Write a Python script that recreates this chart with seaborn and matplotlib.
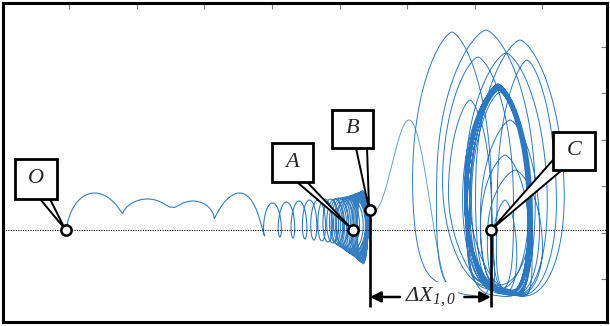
import numpy as np
import seaborn as sns
import matplotlib.pyplot as plt
from matplotlib.patches import Polygon, Rectangle

# values: x in tick spacings, y in tick spacings above the ground line
# bouncing arcs from O, then the small loops that pile up into the cone at A
walk_x = [0.953, 1.796, 2.521, 3.142, 3.896, 4.118, 4.311, 4.488, 4.621, 4.740,
          4.828, 4.902, 4.962, 5.006, 5.065, 5.124, 5.154, 5.183, 5.198, 5.220,
          5.235, 5.250, 5.265, 5.283, 5.294, 5.309, 5.320, 5.331, 5.339, 5.346]
walk_ybot = [0.0, 0.366, 0.496, 0.259, -0.129, -0.151, -0.172, -0.194, -0.216, -0.237,
             -0.259, -0.280, -0.302, -0.345, -0.388, -0.431, -0.474, -0.496, -0.517, -0.539,
             -0.560, -0.582, -0.603, -0.625, -0.647, -0.668, -0.690, -0.690, -0.711, -0.733]
walk_loop = [0.118, 0.111, 0.044, 0.104, 0.067, 0.067, 0.067, 0.067, 0.074, 0.081,
             0.089, 0.104, 0.118, 0.140, 0.163, 0.192, 0.207, 0.207, 0.192, 0.185,
             0.170, 0.155, 0.141, 0.129, 0.118, 0.111, 0.100, 0.089, 0.081, 0.074]
walk_ytop = [0.797, 0.668, 0.625, 0.797, 0.582, 0.603, 0.625, 0.647, 0.647, 0.668,
             0.668, 0.668, 0.690, 0.690, 0.711, 0.711, 0.733, 0.733, 0.754, 0.754,
             0.776, 0.776, 0.797, 0.797, 0.797, 0.819, 0.819, 0.841, 0.841]

# jump out of the cone at B
jump_x = [5.450, 6.603]
jump_ybot = [0.431, -1.185]
jump_loop = [0.0, 0.0]
jump_ytop = [2.371]

# large loops around C: centre, half width, top, bottom of each loop
big_cx = [6.663, 7.166, 7.343, 7.328, 7.669, 7.343, 7.358, 7.047, 7.358, 7.373,
          7.447, 7.343, 7.462, 7.343, 7.358, 7.595, 7.343, 7.772, 7.358, 7.373,
          7.521, 7.343, 6.929, 7.373, 7.447, 7.343, 7.314, 7.358]
big_half = [0.592, 0.740, 0.488, 0.459, 0.666, 0.503, 0.444, 0.533, 0.488, 0.429,
            0.370, 0.503, 0.621, 0.459, 0.473, 0.414, 0.503, 0.444, 0.444, 0.488,
            0.444, 0.503, 0.325, 0.444, 0.178, 0.488, 0.503, 0.473]
big_top = [4.267, 4.310, 3.103, 3.060, 4.095, 3.147, 3.017, 3.728, 3.103, 2.974,
           1.616, 3.125, 3.815, 3.060, 3.082, 1.293, 3.147, 3.664, 3.039, 3.103,
           2.371, 3.082, 2.802, 3.103, 0.647, 3.125, 3.060, 3.103]
big_bot = [-1.336, -1.466, -1.336, -1.293, -1.466, -1.315, -1.272, -1.185, -1.358, -1.250,
           -1.293, -1.336, -1.422, -1.315, -1.293, -1.336, -1.358, -1.422, -1.293, -1.336,
           -1.379, -1.315, -0.970, -1.315, -1.185, -1.336, -1.293, -1.336]

point_names = ['O', 'A', 'B', 'C']
point_x = [0.953, 5.198, 5.450, 7.240]
point_y = [0.0, 0.0, 0.431, 0.0]

ytick_vals = [-1.05, -0.06, 0.95, 1.94, 2.95, 3.95]


def cycles(xs, ybots, tops, amps, n=160):
    # trochoid-like turns, bottom to bottom
    px, py = [], []
    for k in range(len(tops)):
        th = np.linspace(0, 2 * np.pi, n)
        t = th / (2 * np.pi)
        c = xs[k] + (xs[k + 1] - xs[k]) * t
        a = amps[k] + (amps[k + 1] - amps[k]) * t
        yb = ybots[k] + (ybots[k + 1] - ybots[k]) * t
        u = (1 - np.cos(th)) / 2
        px.append(c - a * np.sin(th))
        py.append(yb + (tops[k] - yb) * u)
    return np.concatenate(px), np.concatenate(py)


def loops(cx, half, top, bot, x0, y0, n=240):
    # closed clockwise loops, joined to each other at the bottom
    px, py = [], []
    m = len(cx)
    for k in range(m):
        jsx, jsy = (x0, y0) if k == 0 else ((cx[k - 1] + cx[k]) / 2, (bot[k - 1] + bot[k]) / 2)
        jex, jey = (cx[k], bot[k]) if k == m - 1 else ((cx[k] + cx[k + 1]) / 2, (bot[k] + bot[k + 1]) / 2)
        th = np.linspace(0, 2 * np.pi, n)
        t = th / (2 * np.pi)
        g0 = np.where(t < 0.25, 0.5 * (1 + np.cos(4 * np.pi * t)), 0)
        g1 = np.where(t > 0.75, 0.5 * (1 + np.cos(4 * np.pi * (1 - t))), 0)
        c = cx[k] + (jsx - cx[k]) * g0 + (jex - cx[k]) * g1
        yb = bot[k] + (jsy - bot[k]) * g0 + (jey - bot[k]) * g1
        u = (1 - np.cos(th)) / 2
        s = np.sin(th)
        sx = np.sign(s) * np.abs(s) ** 0.75 * (1 - u ** 4) ** 0.3
        px.append(c - half[k] * sx)
        py.append(yb + (top[k] - yb) * u ** 1.15 + 0.3 * s * (1 - u))
    return np.concatenate(px), np.concatenate(py)


sns.set_style('white')
plt.rcParams['mathtext.fontset'] = 'custom'
plt.rcParams['mathtext.rm'] = 'Liberation Serif:italic'
plt.rcParams['mathtext.it'] = 'Liberation Serif:italic'

fig = plt.figure(figsize=(6.1, 3.26), dpi=100)
ax = fig.add_axes([3 / 610, 4 / 326, 604 / 610, 319 / 326])

wx, wy = cycles(walk_x, walk_ybot, walk_ytop, walk_loop)
jx, jy = cycles(jump_x, jump_ybot, jump_ytop, jump_loop)
bx, by = loops(big_cx, big_half, big_top, big_bot, jump_x[-1], jump_ybot[-1])

sns.lineplot(x=wx, y=wy, sort=False, estimator=None, color='#1f70b8', lw=0.8, alpha=0.9, ax=ax)
sns.lineplot(x=jx, y=jy, sort=False, estimator=None, color='#3d8cc9', lw=0.7, alpha=0.8, ax=ax)
sns.lineplot(x=bx, y=by, sort=False, estimator=None, color='#166abb', lw=0.7, alpha=0.9, ax=ax)

ax.axhline(0, color='k', lw=0.8, ls=(0, (1, 1.2)), zorder=3)

# B and C drop lines with the distance between them
ybar = -1.659
yarr = -1.444
ax.vlines([point_x[2], point_x[3]], ybar, [point_y[2], point_y[3]], color='k', lw=1.9, zorder=5)
ax.annotate('', xy=(point_x[2], yarr), xytext=(5.893, yarr),
            arrowprops=dict(arrowstyle='-|>', color='k', lw=1.8, mutation_scale=16, shrinkA=0, shrinkB=0), zorder=5)
ax.annotate('', xy=(point_x[3], yarr), xytext=(6.846, yarr),
            arrowprops=dict(arrowstyle='-|>', color='k', lw=1.8, mutation_scale=16, shrinkA=0, shrinkB=0), zorder=5)
ax.text(6.337, yarr + 0.02, r'$\Delta X_{1,0}$', ha='center', va='center', fontsize=16, zorder=4,
        bbox=dict(fc='white', ec='none', pad=2))

# callout boxes
boxes = {
    'O': ((0.198, 0.668), (0.820, 1.530), [(0.568, 0.668), (0.716, 0.668), (0.938, 0.022)]),
    'A': ((4.000, 1.034), (4.607, 1.875), [(4.370, 1.034), (4.518, 1.034), (5.183, 0.022)]),
    'B': ((4.888, 1.767), (5.494, 2.586), [(5.243, 1.767), (5.406, 1.767), (5.436, 0.453)]),
    'C': ((8.157, 1.293), (8.778, 2.112), [(8.157, 1.509), (8.290, 1.293), (7.254, 0.022)]),
}
for name, (lo, hi, tail) in boxes.items():
    ax.add_patch(Polygon(tail, closed=True, fc='white', ec='k', lw=1.4, zorder=6))
    ax.add_patch(Rectangle(lo, hi[0] - lo[0], hi[1] - lo[1], fc='white', ec='k', lw=2.0, zorder=7))
    ax.text((lo[0] + hi[0]) / 2, (lo[1] + hi[1]) / 2, name, ha='center', va='center',
            fontsize=16, family='Liberation Serif', style='italic', zorder=8)

sns.scatterplot(x=point_x, y=point_y, s=55, color='white', edgecolor='black', linewidth=1.8,
                zorder=9, ax=ax)

ax.set_xlim(0.021, 8.956)
ax.set_ylim(-1.983, 4.892)
ax.set_xticks(range(1, 9))
ax.set_yticks(ytick_vals)
ax.tick_params(direction='in', length=4, width=0.8, color='#808080', top=True, right=True,
               labelbottom=False, labelleft=False)
for sp in ax.spines.values():
    sp.set_linewidth(2.2)
    sp.set_color('black')
ax.set_xlabel('')
ax.set_ylabel('')

fig.savefig('out.png', dpi=100)
